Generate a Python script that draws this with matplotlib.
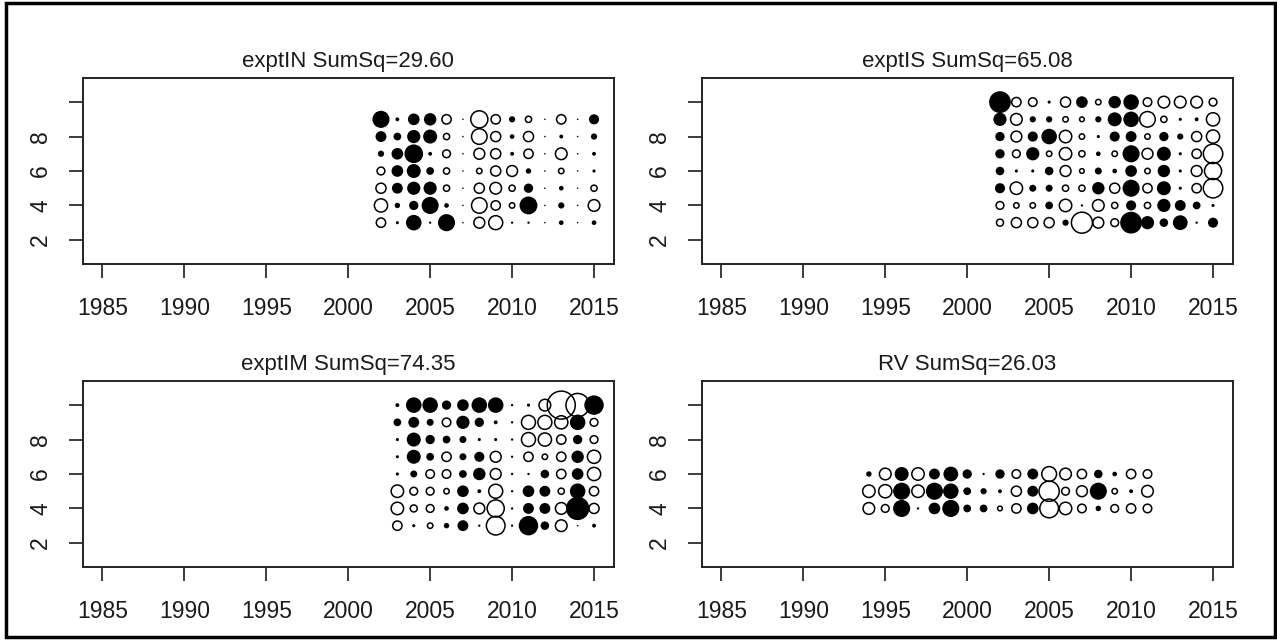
import numpy as np
import matplotlib.pyplot as plt
from matplotlib.patches import Rectangle

plt.rcParams['font.family'] = ['Liberation Sans', 'DejaVu Sans']

# residuals per age (rows, oldest first) and year (columns); negative -> open circle
in_title = 'exptIN SumSq=29.60'
in_years = list(range(2002, 2016))
in_ages = [9, 8, 7, 6, 5, 4, 3]
in_resid = [
    [2.2, 0.5, 1.5, 1.6, -1.2, 0.2, -2.2, -1.2, 0.8, -0.8, 0.2, -1.2, 0.2, 1.3],
    [1.4, 1.0, 1.7, 1.8, -0.8, 0.2, -2.0, -1.3, 0.6, -1.3, 0.2, 0.5, 0.2, 0.8],
    [0.8, 1.5, 2.4, 0.5, -1.0, 0.2, -1.4, -1.3, 0.5, -1.2, 0.2, -1.5, 0.2, 0.5],
    [-1.0, 1.5, 1.8, 1.0, -0.8, 0.2, -0.7, -1.3, -1.4, 0.7, 0.2, -0.7, 0.2, 0.4],
    [-1.3, 1.4, 1.7, 1.7, -0.8, 0.2, -1.3, -1.5, -0.8, 1.2, 0.2, 0.6, 0.2, -0.8],
    [-1.7, 0.7, 1.2, 2.2, 0.6, 0.2, -2.0, -1.2, -0.7, 2.3, 0.2, 0.8, 0.2, -1.5],
    [-1.2, 0.4, 2.0, 0.3, 2.2, 0.2, -1.4, -1.8, 0.3, 0.3, 0.2, 0.6, 0.2, 0.6],
]

is_title = 'exptIS SumSq=65.08'
is_years = list(range(2002, 2016))
is_ages = [10, 9, 8, 7, 6, 5, 4, 3]
is_resid = [
    [2.8, -1.2, -1.1, 0.4, -1.3, 1.5, -0.7, 1.6, 2.0, -1.1, -1.5, -1.5, -1.5, -1.0],
    [1.7, -1.5, 0.8, 0.8, -0.7, -0.6, 0.8, 1.8, 2.0, -2.0, -0.8, 0.4, 0.5, -1.7],
    [1.2, -1.4, 1.3, 2.0, -1.6, -0.7, 0.4, 1.3, 1.4, -0.7, 1.2, 0.8, -1.3, -1.7],
    [1.2, -1.0, 1.7, -0.7, -1.6, -0.8, 0.6, -0.7, 2.2, -1.4, 1.8, 0.4, -1.2, -2.5],
    [1.1, 0.4, 0.4, 1.1, -1.4, -0.6, 0.9, 0.6, 1.5, -0.7, 1.6, 0.4, -1.4, -2.2],
    [1.3, -1.6, 0.9, 0.9, -0.8, -0.8, 1.6, -1.3, 2.2, -1.2, 1.8, 0.4, -1.2, -2.5],
    [-1.0, -0.7, -0.7, 1.0, -1.6, 0.3, -1.5, -0.8, 1.3, -0.8, 1.7, 1.4, 1.0, 0.4],
    [-0.9, -1.3, -1.3, -1.3, 0.8, -2.7, -1.4, -1.0, 2.8, 1.7, 1.1, 1.9, 0.3, 1.3],
]

im_title = 'exptIM SumSq=74.35'
im_years = list(range(2003, 2016))
im_ages = [10, 9, 8, 7, 6, 5, 4, 3]
im_resid = [
    [0.5, 2.0, 2.0, 1.2, 1.5, 2.0, 2.0, 0.3, 0.4, -1.5, -3.6, -3.0, 2.5],
    [1.0, 1.4, 0.9, -1.1, 1.7, 1.2, 0.5, 0.3, -1.8, -1.8, -1.7, 2.0, -1.0],
    [0.4, 1.8, 1.2, 1.0, 0.9, 0.4, 0.4, 0.3, -1.8, -1.7, -1.2, 1.2, -1.0],
    [0.4, 1.8, 1.0, -1.2, 0.9, 1.3, -1.4, 0.3, -1.2, -0.7, -1.2, 1.6, -1.7],
    [0.4, 0.9, -1.1, -1.1, 1.0, 1.6, -1.4, 0.3, 0.3, 1.1, -1.2, 1.5, -1.7],
    [-1.6, -1.0, -1.0, -0.7, 1.5, 0.5, -1.8, 0.3, 1.5, 1.4, -0.8, 2.0, -1.2],
    [-1.6, -0.9, -1.0, 0.6, 1.5, -1.4, -2.2, 0.3, 1.4, 1.4, -1.5, 3.0, -1.3],
    [-1.2, 0.4, -0.7, 0.7, 1.4, 0.3, -2.4, 0.3, 2.5, 1.1, -1.5, 0.2, 0.5],
]

rv_title = 'RV SumSq=26.03'
rv_years = list(range(1994, 2012))
rv_ages = [6, 5, 4]
rv_resid = [
    [0.7, -1.5, 1.8, -1.6, 1.4, 1.9, 1.2, 0.3, 1.2, -1.1, 1.4, -1.9, -1.5, -1.2, 1.1, 0.6, -1.2, -1.1],
    [-1.6, -1.7, 2.2, -1.6, 2.2, 2.0, 1.0, 0.8, 0.5, -1.3, 1.4, -2.6, -1.0, -1.4, 2.2, -0.7, 0.5, -1.5],
    [-1.5, -1.0, 2.2, 0.3, 1.5, 2.2, 1.0, 1.0, -0.6, -1.2, 1.5, -2.4, -1.6, -1.1, 0.7, -1.0, -1.2, -1.1],
]

x_ticks = [1985, 1990, 1995, 2000, 2005, 2010, 2015]
y_ticks = [2, 4, 6, 8, 10]
y_ticklabels = ['2', '4', '6', '8', '']


def bubble_panel(ax, years, ages, resid, title):
    yr, ag = np.meshgrid(years, ages)
    z = np.array(resid).ravel()
    x = yr.ravel()
    y = ag.ravel()
    size = (5.6 * np.abs(z)) ** 2
    neg = z < 0
    ax.scatter(x[neg], y[neg], s=size[neg], facecolors='none', edgecolors='k', linewidths=1.1)
    ax.scatter(x[~neg], y[~neg], s=size[~neg], c='k', linewidths=0)
    ax.set_xlim(1983.8, 2016.2)
    ax.set_ylim(0.6, 11.4)
    ax.set_xticks(x_ticks)
    ax.set_yticks(y_ticks)
    ax.set_yticklabels(y_ticklabels, rotation=90, va='center')
    ax.tick_params(axis='both', length=10, width=1.2, labelsize=16.5, colors='#1a1a1a')
    ax.tick_params(axis='x', pad=14)
    ax.tick_params(axis='y', pad=12)
    for sp in ax.spines.values():
        sp.set_linewidth(1.4)
        sp.set_color('#222222')
    ax.set_title(title, fontsize=16, pad=8, color='#1a1a1a')


W, H = 1277, 640
fig = plt.figure(figsize=(W / 100, H / 100), dpi=100)

w = 531 / W
h = 186 / H
ax1 = fig.add_axes([82.7 / W, 1 - 264 / H, w, h])
ax2 = fig.add_axes([701.7 / W, 1 - 264 / H, w, h])
ax3 = fig.add_axes([82.7 / W, 1 - 567 / H, w, h])
ax4 = fig.add_axes([701.7 / W, 1 - 567 / H, w, h])

bubble_panel(ax1, in_years, in_ages, in_resid, in_title)
bubble_panel(ax2, is_years, is_ages, is_resid, is_title)
bubble_panel(ax3, im_years, im_ages, im_resid, im_title)
bubble_panel(ax4, rv_years, rv_ages, rv_resid, rv_title)

# black frame around the whole picture
fig.patches.append(Rectangle((6 / W, 3 / H), 1269 / W, 634 / H, transform=fig.transFigure,
                             fill=False, lw=2.5, ec='k'))

fig.savefig('out.png', dpi=100)
